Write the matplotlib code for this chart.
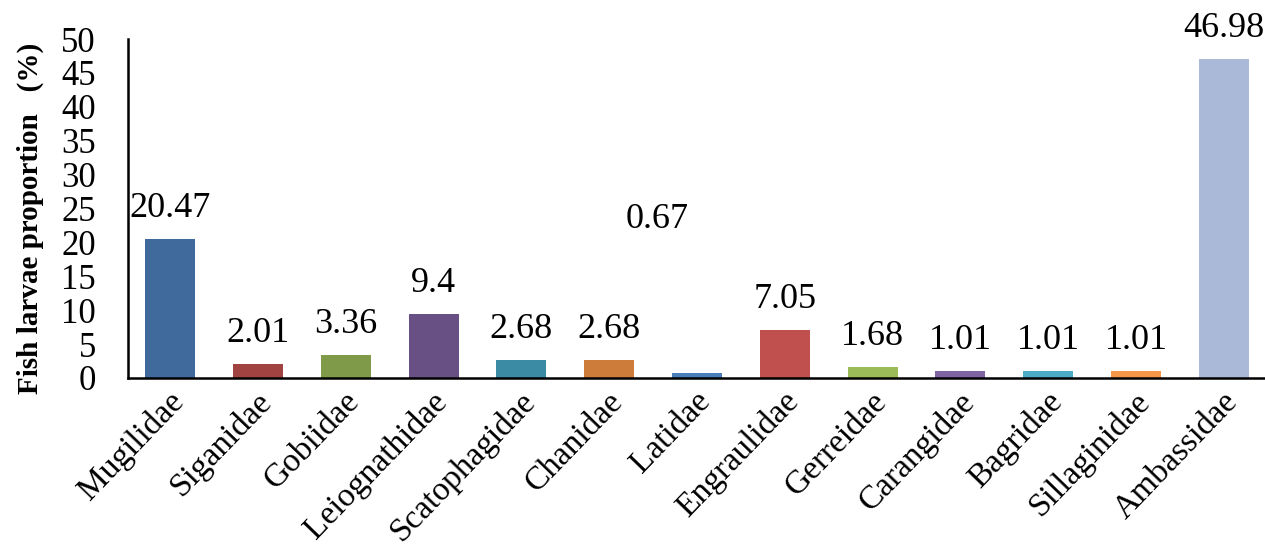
import matplotlib
matplotlib.use("Agg")
import matplotlib.pyplot as plt
import matplotlib.transforms as mtransforms
import numpy as np

families = ["Mugilidae", "Siganidae", "Gobiidae", "Leiognathidae", "Scatophagidae",
            "Chanidae", "Latidae", "Engraulidae", "Gerreidae", "Carangidae",
            "Bagridae", "Sillaginidae", "Ambassidae"]
proportion = [20.47, 2.01, 3.36, 9.4, 2.68, 2.68, 0.67, 7.05, 1.68, 1.01, 1.01, 1.01, 46.98]
value_text = ["20.47", "2.01", "3.36", "9.4", "2.68", "2.68", "0.67", "7.05",
              "1.68", "1.01", "1.01", "1.01", "46.98"]
bar_colors = ["#3F6A9B", "#A14340", "#7F9A48", "#684F84", "#3C8BA4", "#CE7C3A", "#4A7EBB",
              "#C0504D", "#9BBB59", "#8064A2", "#4BACC6", "#F79646", "#AAB9D7"]
y_ticks = list(range(0, 55, 5))

plt.rcParams["font.family"] = ["Liberation Serif", "DejaVu Serif"]

W, H = 1265, 549
fig = plt.figure(figsize=(W / 100, H / 100), dpi=100)
ax = fig.add_axes([128 / W, 1 - 378 / H, 1 - 128 / W, (378 - 39) / H])

x = np.arange(len(families))
bars = ax.bar(x, proportion, width=0.57, color=bar_colors, zorder=2)

ax.set_xlim(-0.48, 12.47)
ax.set_ylim(0, 50)
ax.set_yticks(y_ticks)
ax.tick_params(axis="y", length=0, pad=23, labelsize=25)
ax.set_xticks(x)
ax.set_xticklabels([])
ax.tick_params(axis="x", length=0)

for side in ("top", "right"):
    ax.spines[side].set_visible(False)
for side in ("left", "bottom"):
    ax.spines[side].set_linewidth(1.8)
    ax.spines[side].set_color("black")

# category names, rotated under each bar
for xi, name in zip(x, families):
    off = mtransforms.offset_copy(ax.get_xaxis_transform(), fig=fig, x=-2, y=-8, units="dots")
    ax.text(xi, 0, name, transform=off, rotation=46, rotation_mode="anchor",
            ha="right", va="top", fontsize=24)

# value labels above bars; the Latidae label sits higher and to the left
for xi, val, txt in zip(x, proportion, value_text):
    dx, dy = 0, 22
    if txt == "0.67":
        dx, dy = -40, 145
    off = mtransforms.offset_copy(ax.transData, fig=fig, x=dx, y=dy, units="dots")
    ax.text(xi, val, txt, transform=off, ha="center", va="baseline", fontsize=26)

ax.set_ylabel("Fish larvae proportion   (%)", fontsize=21, fontweight="bold")
ax.yaxis.set_label_coords(-84 / (W - 128), 0.47)

fig.savefig("out.png", dpi=100)
